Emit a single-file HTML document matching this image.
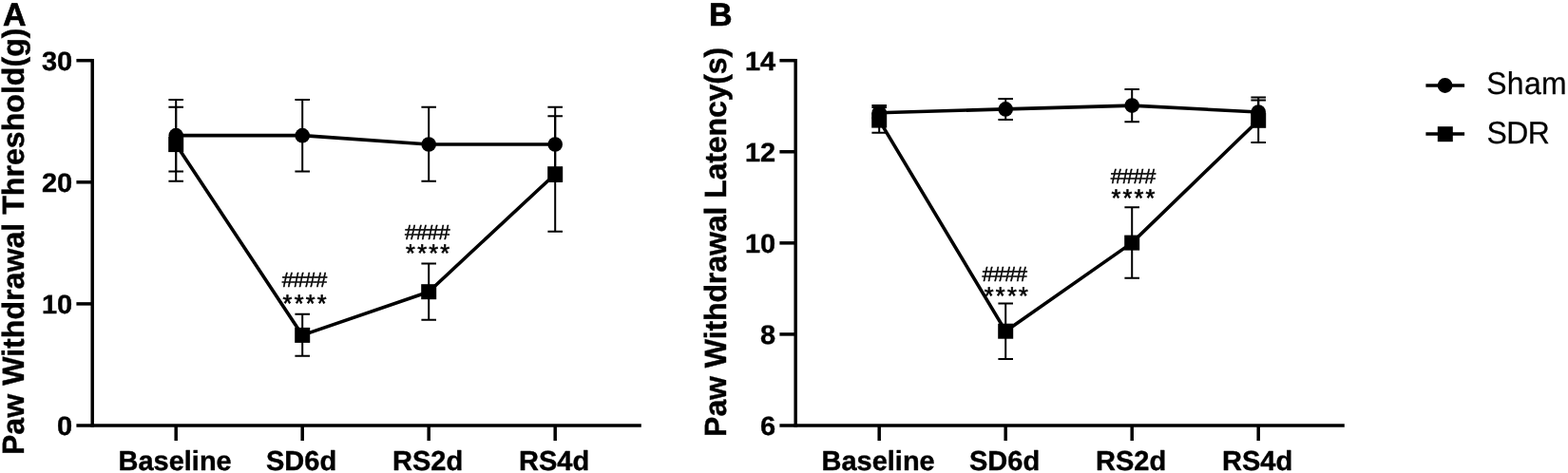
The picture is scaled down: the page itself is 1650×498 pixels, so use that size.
<!DOCTYPE html>
<html lang="en">
<head>
<meta charset="utf-8">
<title>Paw withdrawal threshold and latency</title>
<style>
html,body{margin:0;padding:0;background:#fff;}
body{width:1650px;height:498px;overflow:hidden;}
svg{display:block;}
text{fill:#000;}
.b{font-family:"Liberation Sans",Arial,Helvetica,sans-serif;font-weight:700;stroke:#000;stroke-width:0.4px;stroke-linejoin:round;}
.r{font-family:"Liberation Sans",Arial,Helvetica,sans-serif;font-weight:400;}
</style>
</head>
<body>
<svg width="1650" height="498" viewBox="0 0 1650 498" text-rendering="geometricPrecision">
<rect width="1650" height="498" fill="#fff"/>
<g id="panel-a">
<path d="M80.40 448.0H674.80" stroke="#000" stroke-width="3.5" fill="none"/>
<path d="M97.20 61.95V449.75" stroke="#000" stroke-width="3.5" fill="none"/>
<path d="M80.40 63.70H97.20" stroke="#000" stroke-width="3.5" fill="none"/>
<text transform="translate(76.20 73.70) scale(1 0.97)" text-anchor="end" class="b" font-size="29">30</text>
<path d="M80.40 191.80H97.20" stroke="#000" stroke-width="3.5" fill="none"/>
<text transform="translate(76.20 201.80) scale(1 0.97)" text-anchor="end" class="b" font-size="29">20</text>
<path d="M80.40 319.90H97.20" stroke="#000" stroke-width="3.5" fill="none"/>
<text transform="translate(76.20 329.90) scale(1 0.97)" text-anchor="end" class="b" font-size="29">10</text>
<text transform="translate(76.20 458.00) scale(1 0.97)" text-anchor="end" class="b" font-size="29">0</text>
<path d="M185.20 448.0V464.00" stroke="#000" stroke-width="3.5" fill="none"/>
<text x="184.10" y="494.8" text-anchor="middle" class="b" font-size="29">Baseline</text>
<path d="M318.20 448.0V464.00" stroke="#000" stroke-width="3.5" fill="none"/>
<text x="317.10" y="494.8" text-anchor="middle" class="b" font-size="29">SD6d</text>
<path d="M451.20 448.0V464.00" stroke="#000" stroke-width="3.5" fill="none"/>
<text x="450.10" y="494.8" text-anchor="middle" class="b" font-size="29">RS2d</text>
<path d="M584.20 448.0V464.00" stroke="#000" stroke-width="3.5" fill="none"/>
<text x="583.10" y="494.8" text-anchor="middle" class="b" font-size="29">RS4d</text>
<text transform="translate(24.95 479.1) rotate(-90)" class="b" font-size="32.2" textLength="449.6" lengthAdjust="spacing">Paw Withdrawal Threshold(g)</text>
<text x="3.1" y="26.8" class="b" font-size="34" style="stroke-width:0.7px">A</text>
<path d="M185.20 105.05V180.55M177.40 105.05H193.00M177.40 180.55H193.00" stroke="#000" stroke-width="2.0" fill="none"/>
<path d="M318.20 105.05V180.55M310.40 105.05H326.00M310.40 180.55H326.00" stroke="#000" stroke-width="2.0" fill="none"/>
<path d="M451.20 112.85V190.85M443.40 112.85H459.00M443.40 190.85H459.00" stroke="#000" stroke-width="2.0" fill="none"/>
<path d="M584.20 112.65V191.05M576.40 112.65H592.00M576.40 191.05H592.00" stroke="#000" stroke-width="2.0" fill="none"/>
<path d="M185.20 112.80V190.70M177.40 112.80H193.00M177.40 190.70H193.00" stroke="#000" stroke-width="2.0" fill="none"/>
<path d="M318.20 330.80V374.80M310.40 330.80H326.00M310.40 374.80H326.00" stroke="#000" stroke-width="2.0" fill="none"/>
<path d="M451.20 277.50V336.80M443.40 277.50H459.00M443.40 336.80H459.00" stroke="#000" stroke-width="2.0" fill="none"/>
<path d="M584.20 122.20V243.70M576.40 122.20H592.00M576.40 243.70H592.00" stroke="#000" stroke-width="2.0" fill="none"/>
<path d="M185.20 142.65L318.20 142.65L451.20 152.05L584.20 152.05" stroke="#000" stroke-width="3.6" fill="none" stroke-linejoin="round"/>
<path d="M185.20 152.10L318.20 352.90L451.20 307.20L584.20 183.20" stroke="#000" stroke-width="3.6" fill="none" stroke-linejoin="round"/>
<circle cx="185.20" cy="142.65" r="7.8" fill="#000"/>
<circle cx="318.20" cy="142.65" r="7.8" fill="#000"/>
<circle cx="451.20" cy="152.05" r="7.8" fill="#000"/>
<circle cx="584.20" cy="152.05" r="7.8" fill="#000"/>
<rect x="177.20" y="144.10" width="16" height="16" fill="#000"/>
<rect x="310.20" y="344.90" width="16" height="16" fill="#000"/>
<rect x="443.20" y="299.20" width="16" height="16" fill="#000"/>
<rect x="576.20" y="175.20" width="16" height="16" fill="#000"/>
<text x="296.71" y="301.80" class="r" font-size="22" letter-spacing="-0.5" stroke="#000" stroke-width="0.5">####</text>
<text x="297.60" y="328.01" class="r" font-size="25.3" letter-spacing="2.2" stroke="#000" stroke-width="0.6">****</text>
<text x="426.11" y="252.30" class="r" font-size="22" letter-spacing="-0.5" stroke="#000" stroke-width="0.5">####</text>
<text x="427.10" y="274.81" class="r" font-size="25.3" letter-spacing="2.2" stroke="#000" stroke-width="0.6">****</text>
</g>
<g id="panel-b">
<path d="M820.40 448.0H1414.80" stroke="#000" stroke-width="3.5" fill="none"/>
<path d="M837.20 61.95V449.75" stroke="#000" stroke-width="3.5" fill="none"/>
<path d="M820.40 63.70H837.20" stroke="#000" stroke-width="3.5" fill="none"/>
<text transform="translate(816.20 73.70) scale(1 0.97)" text-anchor="end" class="b" font-size="29">14</text>
<path d="M820.40 159.78H837.20" stroke="#000" stroke-width="3.5" fill="none"/>
<text transform="translate(816.20 169.78) scale(1 0.97)" text-anchor="end" class="b" font-size="29">12</text>
<path d="M820.40 255.85H837.20" stroke="#000" stroke-width="3.5" fill="none"/>
<text transform="translate(816.20 265.85) scale(1 0.97)" text-anchor="end" class="b" font-size="29">10</text>
<path d="M820.40 351.93H837.20" stroke="#000" stroke-width="3.5" fill="none"/>
<text transform="translate(816.20 361.93) scale(1 0.97)" text-anchor="end" class="b" font-size="29">8</text>
<text transform="translate(816.20 458.00) scale(1 0.97)" text-anchor="end" class="b" font-size="29">6</text>
<path d="M925.20 448.0V464.00" stroke="#000" stroke-width="3.5" fill="none"/>
<text x="924.10" y="494.8" text-anchor="middle" class="b" font-size="29">Baseline</text>
<path d="M1058.20 448.0V464.00" stroke="#000" stroke-width="3.5" fill="none"/>
<text x="1057.10" y="494.8" text-anchor="middle" class="b" font-size="29">SD6d</text>
<path d="M1191.20 448.0V464.00" stroke="#000" stroke-width="3.5" fill="none"/>
<text x="1190.10" y="494.8" text-anchor="middle" class="b" font-size="29">RS2d</text>
<path d="M1324.20 448.0V464.00" stroke="#000" stroke-width="3.5" fill="none"/>
<text x="1323.10" y="494.8" text-anchor="middle" class="b" font-size="29">RS4d</text>
<text transform="translate(764.30 459.9) rotate(-90)" class="b" font-size="32.2" textLength="410.2" lengthAdjust="spacing">Paw Withdrawal Latency(s)</text>
<text x="745.9" y="26.8" class="b" font-size="34" style="stroke-width:0.7px">B</text>
<path d="M925.20 112.90V124.30M917.40 112.90H933.00M917.40 124.30H933.00" stroke="#000" stroke-width="2.0" fill="none"/>
<path d="M1058.20 104.10V126.00M1050.40 104.10H1066.00M1050.40 126.00H1066.00" stroke="#000" stroke-width="2.0" fill="none"/>
<path d="M1191.20 94.00V128.20M1183.40 94.00H1199.00M1183.40 128.20H1199.00" stroke="#000" stroke-width="2.0" fill="none"/>
<path d="M1324.20 105.40V130.40M1316.40 105.40H1332.00M1316.40 130.40H1332.00" stroke="#000" stroke-width="2.0" fill="none"/>
<path d="M925.20 111.00V139.80M917.40 111.00H933.00M917.40 139.80H933.00" stroke="#000" stroke-width="2.0" fill="none"/>
<path d="M1058.20 319.40V378.00M1050.40 319.40H1066.00M1050.40 378.00H1066.00" stroke="#000" stroke-width="2.0" fill="none"/>
<path d="M1191.20 218.20V292.80M1183.40 218.20H1199.00M1183.40 292.80H1199.00" stroke="#000" stroke-width="2.0" fill="none"/>
<path d="M1324.20 102.60V150.10M1316.40 102.60H1332.00M1316.40 150.10H1332.00" stroke="#000" stroke-width="2.0" fill="none"/>
<path d="M925.20 118.70L1058.20 114.90L1191.20 111.10L1324.20 118.00" stroke="#000" stroke-width="3.6" fill="none" stroke-linejoin="round"/>
<path d="M925.20 126.60L1058.20 348.70L1191.20 255.60L1324.20 126.80" stroke="#000" stroke-width="3.6" fill="none" stroke-linejoin="round"/>
<circle cx="925.20" cy="118.70" r="7.8" fill="#000"/>
<circle cx="1058.20" cy="114.90" r="7.8" fill="#000"/>
<circle cx="1191.20" cy="111.10" r="7.8" fill="#000"/>
<circle cx="1324.20" cy="118.00" r="7.8" fill="#000"/>
<rect x="917.20" y="118.60" width="16" height="16" fill="#000"/>
<rect x="1050.20" y="340.70" width="16" height="16" fill="#000"/>
<rect x="1183.20" y="247.60" width="16" height="16" fill="#000"/>
<rect x="1316.20" y="118.80" width="16" height="16" fill="#000"/>
<text x="1033.61" y="295.70" class="r" font-size="22" letter-spacing="-0.5" stroke="#000" stroke-width="0.5">####</text>
<text x="1035.80" y="320.31" class="r" font-size="25.3" letter-spacing="2.2" stroke="#000" stroke-width="0.6">****</text>
<text x="1168.81" y="192.70" class="r" font-size="22" letter-spacing="-0.5" stroke="#000" stroke-width="0.5">####</text>
<text x="1169.40" y="216.81" class="r" font-size="25.3" letter-spacing="2.2" stroke="#000" stroke-width="0.6">****</text>
</g>
<g id="legend">
<path d="M1500.4 90H1541.1" stroke="#000" stroke-width="3.6"/>
<circle cx="1520.6" cy="90" r="7.9" fill="#000"/>
<path d="M1500.4 141H1541.1" stroke="#000" stroke-width="3.6"/>
<rect x="1512.80" y="133.20" width="16.0" height="16.0" fill="#000"/>
<text transform="translate(1564.2 99.4) scale(1 1.035)" class="r" font-size="31.9" letter-spacing="0.35" style="stroke:#000;stroke-width:0.25px">Sham</text>
<text transform="translate(1564.4 150.7) scale(1 1.035)" class="r" font-size="31.9" letter-spacing="-0.45" style="stroke:#000;stroke-width:0.25px">SDR</text>
</g>
</svg>
</body>
</html>
